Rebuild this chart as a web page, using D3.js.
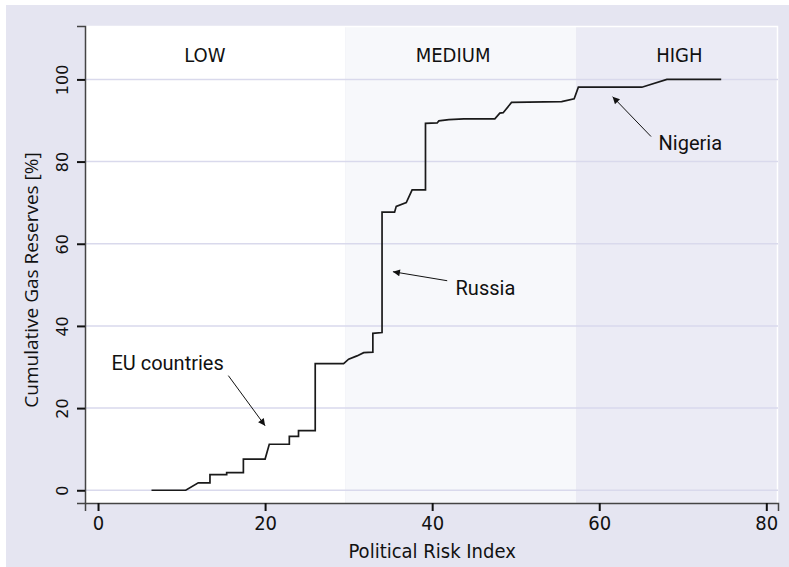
<!DOCTYPE html>
<html>
<head>
<meta charset="utf-8">
<script src="https://cdn.jsdelivr.net/npm/d3@7"></script>
<style>
  body { margin: 0; background: #fff; }
  svg { display: block; }
</style>
</head>
<body>
<svg id="chart" width="789" height="567"></svg>
<script>
// step curve vertices
const riskIndex = [6.4, 10.5, 12.0, 13.4, 13.4, 15.4, 15.4, 17.4, 17.4, 20.0, 20.5, 22.9, 22.9, 24.0, 24.0, 26.0, 26.0,
  29.4, 30.0, 31.0, 31.8, 32.9, 32.9, 34.0, 34.0, 35.5, 35.7, 36.9, 37.6, 39.2, 39.2, 40.6, 40.8, 42.0, 43.8,
  47.5, 48.1, 48.5, 49.5, 55.5, 57.0, 57.5, 65.1, 68.1, 74.6];
const cumReserves = [0, 0, 1.8, 1.8, 3.8, 3.8, 4.3, 4.3, 7.6, 7.6, 11.2, 11.2, 13.1, 13.1, 14.5, 14.5, 30.8,
  30.8, 31.9, 32.7, 33.5, 33.6, 38.2, 38.4, 67.7, 67.7, 69.1, 70.0, 73.1, 73.1, 89.3, 89.4, 89.9, 90.2, 90.4,
  90.4, 91.8, 91.9, 94.4, 94.6, 95.3, 98.1, 98.1, 100, 100];

const riskBands = ["LOW", "MEDIUM", "HIGH"];
const bandStart = [-1.56, 29.6, 57.25];
const bandEnd = [29.6, 57.25, 81.4];
const bandLabelX = [12.8, 42.5, 69.6];

const xTicks = [0, 20, 40, 60, 80];
const yTicks = [0, 20, 40, 60, 80, 100];

const noteText = ["EU countries", "Russia", "Nigeria"];
const noteX = [1.6, 42.8, 67.1];
const noteY = [31.0, 49.3, 84.6];
const arrowFrom = [[15.6, 27.9], [41.8, 51.0], [66.2, 86.1]];
const arrowTo = [[20.0, 15.7], [35.3, 53.2], [61.6, 95.8]];

const svg = d3.select("#chart");
const condensed = "'Liberation Sans Narrow', 'DejaVu Sans Condensed', sans-serif";

const margin = { top: 26, right: 11, bottom: 64, left: 85 };
const width = 789 - margin.left - margin.right;
const height = 567 - margin.top - margin.bottom;

const x = d3.scaleLinear().domain([-1.56, 81.4]).range([0, width]);
const y = d3.scaleLinear().domain([-3.1, 113]).range([height, 0]);

// outer panel
svg.append("rect")
  .attr("x", 6).attr("y", 5)
  .attr("width", 783).attr("height", 562)
  .attr("fill", "#e5e5f1");

const g = svg.append("g")
  .attr("transform", `translate(${margin.left},${margin.top})`);

const bandColor = d3.scaleOrdinal().domain(riskBands).range(["#ffffff", "#f7f8fb", "#ebebf5"]);

g.selectAll("rect.band")
  .data(riskBands)
  .join("rect")
  .attr("class", "band")
  .attr("x", (d, i) => x(bandStart[i]))
  .attr("y", 0)
  .attr("width", (d, i) => x(bandEnd[i]) - x(bandStart[i]))
  .attr("height", height)
  .attr("fill", d => bandColor(d));

// white frame top/right
g.append("path")
  .attr("d", `M0,0.5H${width - 0.5}V${height}`)
  .attr("fill", "none")
  .attr("stroke", "#ffffff")
  .attr("stroke-width", 1.5);

// gridlines
g.selectAll("line.grid")
  .data(yTicks)
  .join("line")
  .attr("class", "grid")
  .attr("x1", 0).attr("x2", width)
  .attr("y1", d => y(d)).attr("y2", d => y(d))
  .attr("stroke", "#d9d9ec")
  .attr("stroke-width", 1.5);

g.selectAll("text.band")
  .data(riskBands)
  .join("text")
  .attr("class", "band")
  .attr("x", (d, i) => x(bandLabelX[i]))
  .attr("y", y(106))
  .attr("dy", "0.35em")
  .attr("text-anchor", "middle")
  .style("font-family", condensed)
  .style("font-size", "20px")
  .style("fill", "#111")
  .text(d => d);

// the curve
const line = d3.line()
  .x(d => x(d[0]))
  .y(d => y(d[1]));

g.append("path")
  .datum(riskIndex.map((v, i) => [v, cumReserves[i]]))
  .attr("d", line)
  .attr("fill", "none")
  .attr("stroke", "#1a1a1a")
  .attr("stroke-width", 1.7)
  .attr("stroke-linejoin", "miter");

// annotations
svg.append("defs").append("marker")
  .attr("id", "arrow")
  .attr("viewBox", "0 0 10 10")
  .attr("refX", 10).attr("refY", 5)
  .attr("markerWidth", 9).attr("markerHeight", 7)
  .attr("markerUnits", "userSpaceOnUse")
  .attr("orient", "auto")
  .append("path")
  .attr("d", "M0,0L10,5L0,10z")
  .attr("fill", "#111");

g.selectAll("line.arrow")
  .data(noteText)
  .join("line")
  .attr("class", "arrow")
  .attr("x1", (d, i) => x(arrowFrom[i][0]))
  .attr("y1", (d, i) => y(arrowFrom[i][1]))
  .attr("x2", (d, i) => x(arrowTo[i][0]))
  .attr("y2", (d, i) => y(arrowTo[i][1]))
  .attr("stroke", "#111")
  .attr("stroke-width", 1)
  .attr("marker-end", "url(#arrow)");

g.selectAll("text.note")
  .data(noteText)
  .join("text")
  .attr("class", "note")
  .attr("x", (d, i) => x(noteX[i]))
  .attr("y", (d, i) => y(noteY[i]))
  .attr("dy", "0.35em")
  .style("font-family", "Roboto, sans-serif")
  .style("font-size", "20px")
  .style("fill", "#111")
  .text(d => d);

// axes
const xAxis = g.append("g")
  .attr("transform", `translate(0,${height})`)
  .call(d3.axisBottom(x).tickValues(xTicks).tickSize(8).tickPadding(5));

xAxis.select(".domain").attr("stroke", "#444").attr("stroke-width", 1.5);
xAxis.selectAll(".tick line").attr("stroke", "#111").attr("stroke-width", 2);
xAxis.selectAll("text")
  .style("font-family", condensed)
  .style("font-size", "20px")
  .style("fill", "#111");

const yAxis = g.append("g")
  .call(d3.axisLeft(y).tickValues(yTicks).tickSize(8));

yAxis.select(".domain").attr("stroke", "#444").attr("stroke-width", 1.5);
yAxis.selectAll(".tick line").attr("stroke", "#111").attr("stroke-width", 2);
yAxis.selectAll("text")
  .attr("transform", "rotate(-90)")
  .attr("x", 0)
  .attr("y", -17)
  .attr("dy", 0)
  .attr("text-anchor", "middle")
  .style("font-family", "'DejaVu Sans', sans-serif")
  .style("font-size", "16px")
  .style("fill", "#111");

svg.append("text")
  .attr("x", margin.left + x(40))
  .attr("y", 558)
  .attr("text-anchor", "middle")
  .style("font-family", condensed)
  .style("font-size", "20px")
  .style("fill", "#111")
  .text("Political Risk Index");

svg.append("text")
  .attr("transform", `translate(38,280) rotate(-90)`)
  .attr("text-anchor", "middle")
  .style("font-family", "'Open Sans', sans-serif")
  .style("font-size", "19px")
  .style("fill", "#111")
  .text("Cumulative Gas Reserves [%]");
</script>
</body>
</html>
